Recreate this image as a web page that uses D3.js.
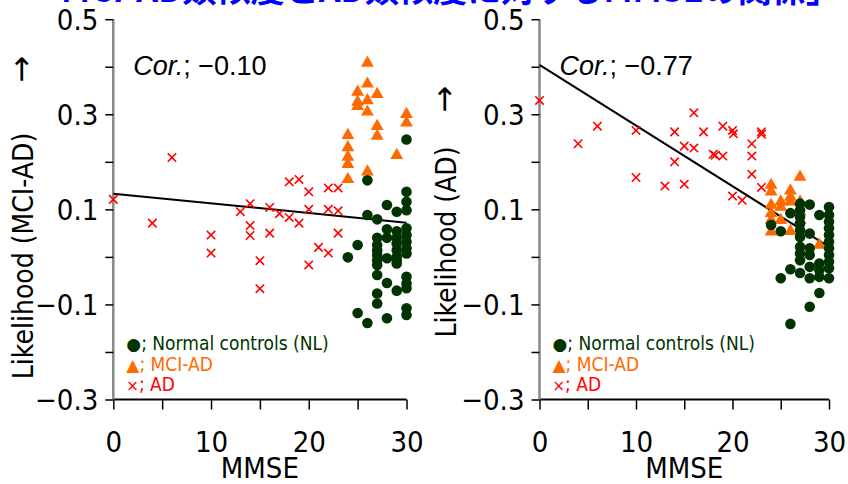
<!DOCTYPE html>
<html><head><meta charset="utf-8">
<script src="https://cdn.jsdelivr.net/npm/d3@7"></script>
<style>
html,body{margin:0;padding:0;background:#fff;}
svg{display:block;}
.nar{font-family:"Liberation Sans Narrow","Arial Narrow","DejaVu Sans Condensed","Liberation Sans",sans-serif;}
</style></head>
<body>
<svg id="chart" width="848" height="484"></svg>
<script>
const titleText = "「MCI-AD類似度とAD類似度に対するMMSEの関係」";
const xTicks = [0, 5, 10, 15, 20, 25, 30];
const xTickLabels = ["0", "", "10", "", "20", "", "30"];
const yTicks = [0.5, 0.4, 0.3, 0.2, 0.1, 0.0, -0.1, -0.2, -0.3];
const yTickLabels = ["0.5", "", "0.3", "", "0.1", "", "\u22120.1", "", "\u22120.3"];
const legendLabels = ["; Normal controls (NL)", "; MCI-AD", "; AD"];

// Left panel: Likelihood (MCI-AD) vs MMSE
const leftNL = [
  [26,0.161],[30,0.247],[30,0.137],[30,0.116],[30,0.098],[28,0.109],[29,0.095],[26,0.088],[27,0.079],
  [28,0.058],[29,0.054],[28,0.040],[30,0.060],[30,0.046],[30,0.032],[30,0.018],[30,0.007],
  [29,0.040],[29,0.028],[29,0.014],[29,0.000],[29,-0.007],[29,-0.014],[28,-0.003],
  [27,0.040],[27,0.025],[27,0.014],[27,0.004],[27,-0.007],[27,-0.017],[27,-0.038],
  [25,0.025],[24,-0.001],[28,-0.055],[29,-0.071],[30,-0.042],[30,-0.056],[30,-0.066],
  [27,-0.077],[27,-0.098],[30,-0.108],[30,-0.122],[25,-0.118],[26,-0.139],[28,-0.129]
];
const leftMCI = [
  [26,0.408],[26,0.364],[25,0.347],[27,0.342],[25,0.326],[25,0.317],[26,0.329],[26,0.305],
  [27,0.275],[27,0.254],[30,0.300],[30,0.282],[29,0.214],[24,0.256],[24,0.230],[24,0.210],
  [24,0.195],[24,0.163],[26,0.179]
];
const leftAD = [
  [0,0.121],[6,0.209],[4,0.071],[10,0.046],[10,0.008],[13,0.095],[14,0.112],[14,0.066],
  [14,0.045],[15,-0.008],[15,-0.067],[16,0.104],[16,0.050],[17,0.091],[18,0.158],[18,0.083],
  [19,0.163],[19,0.071],[20,0.137],[20,0.100],[20,-0.017],[21,0.020],[22,0.145],[22,0.100],
  [22,0.008],[23,0.145],[23,0.097],[23,0.050]
];
const leftFit = [[0,0.133],[30,0.072]];
const leftCor = "\u22120.10";

// Right panel: Likelihood (AD) vs MMSE
const rightAD = [
  [0,0.329],[4,0.238],[6,0.275],[10,0.266],[10,0.167],[13,0.149],[14,0.263],[14,0.200],
  [15,0.233],[15,0.153],[16,0.303],[16,0.229],[17,0.263],[18,0.216],[18.2,0.214],[19,0.212],
  [19,0.275],[20,0.266],[20.1,0.259],[22,0.238],[22,0.212],[22,0.174],[23,0.263],[23,0.258],
  [23,0.146],[20,0.128],[21,0.119]
];
const rightMCI = [
  [27,0.168],[24,0.151],[24,0.137],[26,0.139],[26,0.126],[26,0.116],[25,0.116],[25,0.105],
  [24,0.109],[24,0.092],[24,0.077],[24,0.053],[25,0.077],[26,0.054],[27,0.095],[27,0.077],
  [27,0.116],[29,0.025]
];
const rightNL = [
  [24,0.067],[25,0.054],[25,-0.045],[26,0.092],[26,-0.026],[26,-0.141],
  [27,0.112],[27,0.098],[27,0.084],[27,0.070],[27,0.056],[27,0.042],[27,0.021],[27,0.007],[27,-0.007],[27,-0.034],
  [28,0.110],[28,0.049],[28,0.018],[28,0.004],[28,-0.021],[28,-0.045],[28,-0.105],
  [29,0.088],[29,-0.014],[29,-0.028],[29,-0.042],[29,-0.076],
  [30,0.105],[30,0.088],[30,0.074],[30,0.060],[30,0.046],[30,0.032],[30,0.018],[30,0.004],[30,-0.010],[30,-0.024],[30,-0.045]
];
const rightFit = [[0,0.404],[30,0.021]];
const rightCor = "\u22120.77";

const COL_NL = "#003300", COL_MCI = "#ff6a00", COL_AD = "#ff0000";
const svg = d3.select("#chart");

// Title (cut off at top in the original)
svg.append("text").attr("x", 27).attr("y", 2)
  .attr("textLength", 813).attr("lengthAdjust", "spacingAndGlyphs")
  .attr("font-family", "'Noto Sans CJK JP', sans-serif").attr("font-weight", "bold")
  .attr("font-size", 34).attr("fill", "#0000ff").text(titleText);

function panel(opt) {
  const x = d3.scaleLinear().domain([0, 30]).range([opt.x0, opt.x1]);
  const y = d3.scaleLinear().domain([-0.3, 0.5]).range([399.5, 19.2]);
  const g = svg.append("g");

  // x axis
  const xa = g.append("g").attr("transform", `translate(0,${y(-0.3)})`)
    .call(d3.axisBottom(x).tickValues(xTicks).tickSize(10).tickFormat((d, i) => xTickLabels[i]));
  xa.select(".domain").attr("stroke", "#000").attr("stroke-width", 2).attr("d", `M${opt.x0},0H${opt.x1}`);
  xa.selectAll(".tick line").attr("stroke", "#000").attr("stroke-width", 1.5);
  xa.selectAll(".tick text").attr("class", "nar").attr("font-size", 29).attr("fill", "#000").attr("dy", 0).attr("y", 52);

  // y axis
  const ya = g.append("g").attr("transform", `translate(${opt.x0},0)`)
    .call(d3.axisLeft(y).tickValues(yTicks).tickSize(8).tickFormat((d, i) => yTickLabels[i]));
  ya.select(".domain").attr("stroke", "#888").attr("stroke-width", 2.5).attr("d", `M0,${y(0.5)}V${y(-0.3)}`);
  ya.selectAll(".tick line").attr("stroke", "#000").attr("stroke-width", 1.5);
  ya.selectAll(".tick text").attr("class", "nar").attr("font-size", 29).attr("fill", "#000").attr("x", -15).attr("dy", "0.36em");

  // x title
  g.append("text").attr("class", "nar").attr("x", (opt.x0 + opt.x1) / 2).attr("y", 478)
    .attr("text-anchor", "middle").attr("font-size", 29).text("MMSE");
  // y title + arrow
  g.append("text").attr("class", "nar")
    .attr("transform", `translate(${opt.ytx},${opt.yty}) rotate(-90)`)
    .attr("text-anchor", "middle").attr("font-size", 28).text(opt.ytitle);
  g.append("text")
    .attr("transform", `translate(${opt.ytx - 1},${opt.ary}) rotate(-90)`)
    .attr("font-family", "'DejaVu Sans', sans-serif").attr("fill", "#000")
    .attr("text-anchor", "middle").attr("font-size", 32).text("\u2192");

  // regression line
  g.append("line").attr("x1", x(opt.fit[0][0])).attr("y1", y(opt.fit[0][1]))
    .attr("x2", x(opt.fit[1][0])).attr("y2", y(opt.fit[1][1]))
    .attr("stroke", "#000").attr("stroke-width", 2);

  opt.order.forEach(k => {
    if (k === "NL") {
      g.selectAll(null).data(opt.nl).enter().append("circle")
        .attr("cx", d => x(d[0])).attr("cy", d => y(d[1])).attr("r", 5.3).attr("fill", COL_NL);
    } else if (k === "MCI") {
      const tri = d3.symbol().type(d3.symbolTriangle).size(72);
      g.selectAll(null).data(opt.mci).enter().append("path")
        .attr("d", tri).attr("transform", d => `translate(${x(d[0])},${y(d[1])})`).attr("fill", COL_MCI);
    } else {
      g.selectAll(null).data(opt.ad).enter().append("path")
        .attr("d", "M-4.2,-4.2L4.2,4.2M-4.2,4.2L4.2,-4.2")
        .attr("transform", d => `translate(${x(d[0])},${y(d[1])})`)
        .attr("stroke", COL_AD).attr("stroke-width", 1.6).attr("fill", "none");
    }
  });

  // correlation text
  const ct = g.append("text").attr("x", opt.x0 + 20).attr("y", 75)
    .attr("font-family", "'Liberation Sans', Arial, sans-serif").attr("font-size", 27).attr("fill", "#000");
  ct.append("tspan").attr("font-style", "italic").text("Cor.");
  ct.append("tspan").text("; " + opt.cor);

  // legend
  const lg = g.append("g").attr("class", "nar").attr("font-size", 19);
  const syms = ["\u25CF", "\u25B2", "\u00D7"];
  const cols = [COL_NL, COL_MCI, COL_AD];
  legendLabels.forEach((t, i) => {
    const tx = lg.append("text").attr("x", opt.x0 + 13).attr("y", 350 + i * 20.5).attr("fill", cols[i]);
    tx.append("tspan").attr("font-family", "'DejaVu Sans', sans-serif").attr("font-size", i === 2 ? 15 : 17).text(syms[i]);
    tx.append("tspan").text(t);
  });
}

panel({x0: 113.3, x1: 406.5, nl: leftNL, mci: leftMCI, ad: leftAD, fit: leftFit, cor: leftCor,
  ytitle: "Likelihood (MCI-AD)", ytx: 33, yty: 256, ary: 69, order: ["AD", "MCI", "NL"]});
panel({x0: 539.5, x1: 829, nl: rightNL, mci: rightMCI, ad: rightAD, fit: rightFit, cor: rightCor,
  ytitle: "Likelihood (AD)", ytx: 456, yty: 242, ary: 99, order: ["AD", "MCI", "NL"]});
</script>
</body></html>
